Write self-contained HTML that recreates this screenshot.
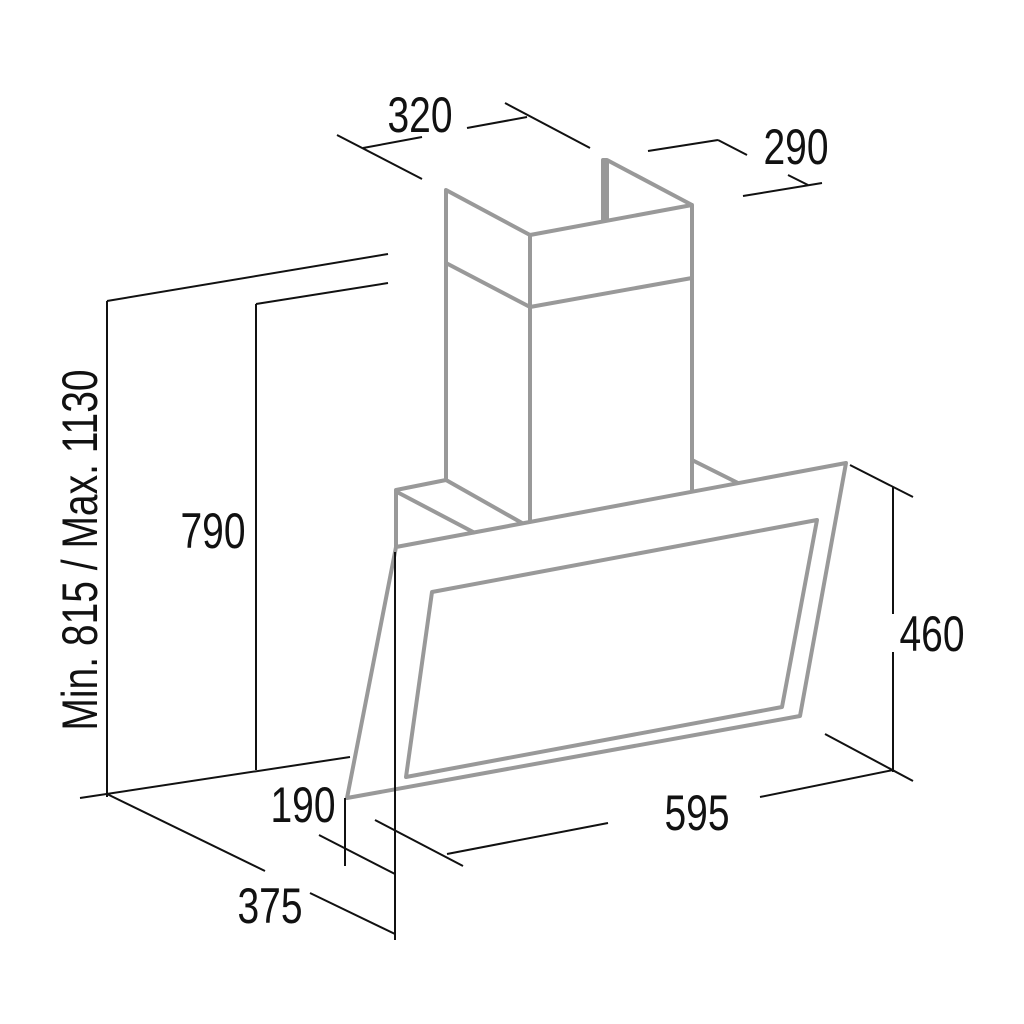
<!DOCTYPE html>
<html><head><style>
html,body{margin:0;padding:0;background:#fff;width:1024px;height:1024px;overflow:hidden}
text{font-family:"Liberation Sans",sans-serif;fill:#111}
</style></head><body>
<svg width="1024" height="1024" viewBox="0 0 1024 1024" xmlns="http://www.w3.org/2000/svg">
<g stroke="#999" stroke-width="4" fill="none" stroke-linejoin="round">
<polyline points="446,480 446,190 530,235 692,205 692,490"/>
<line x1="530" y1="235" x2="530" y2="522"/>
<polyline points="603,222 603,160 607,160 692,205"/>
<line x1="607" y1="160" x2="607" y2="220"/>
<polyline points="446,263 530,307 692,278"/>
<polyline points="396,548 396,490 446,480"/>
<line x1="397" y1="492" x2="475" y2="533"/>
<line x1="446" y1="480" x2="522" y2="523"/>
<line x1="692" y1="460" x2="738" y2="483"/>
<polygon points="396,547 846,463 800,716 347,798"/>
<polygon points="432,592 817,520 782,707 406,777"/>
</g>
<g stroke="#111" stroke-width="2" fill="none">
<line x1="337" y1="135" x2="422" y2="179"/>
<line x1="363" y1="148" x2="422" y2="137"/>
<line x1="467" y1="128" x2="527" y2="117"/>
<line x1="505" y1="103" x2="590" y2="148"/>
<line x1="648" y1="151" x2="718" y2="140"/>
<line x1="718" y1="140" x2="747" y2="155"/>
<line x1="788" y1="175" x2="808" y2="185"/>
<line x1="743" y1="196" x2="822" y2="183"/>
<line x1="107" y1="301" x2="388" y2="254"/>
<line x1="256" y1="304" x2="388" y2="283"/>
<line x1="107" y1="301" x2="107" y2="797"/>
<line x1="256" y1="304" x2="256" y2="770"/>
<line x1="80" y1="798" x2="350" y2="757"/>
<line x1="107" y1="794" x2="265" y2="871"/>
<line x1="310" y1="893" x2="395" y2="934"/>
<line x1="395" y1="552" x2="395" y2="940"/>
<line x1="345" y1="798" x2="345" y2="866"/>
<line x1="319" y1="835" x2="395" y2="874"/>
<line x1="375" y1="820" x2="463" y2="866"/>
<line x1="447" y1="854" x2="608" y2="823"/>
<line x1="760" y1="797" x2="893" y2="770"/>
<line x1="850" y1="465" x2="913" y2="497"/>
<line x1="825" y1="734" x2="913" y2="781"/>
<line x1="893" y1="487" x2="893" y2="614"/>
<line x1="893" y1="652" x2="893" y2="772"/>
</g>
<g font-size="50">
<text transform="translate(420,132) scale(0.78,1)" text-anchor="middle">320</text>
<text transform="translate(796,164) scale(0.78,1)" text-anchor="middle">290</text>
<text transform="translate(213,548) scale(0.78,1)" text-anchor="middle">790</text>
<text transform="translate(932,651) scale(0.78,1)" text-anchor="middle">460</text>
<text transform="translate(697,830) scale(0.78,1)" text-anchor="middle">595</text>
<text transform="translate(303,822) scale(0.78,1)" text-anchor="middle">190</text>
<text transform="translate(270,923) scale(0.78,1)" text-anchor="middle">375</text>
<text transform="translate(97,550) rotate(-90) scale(0.78,1)" text-anchor="middle">Min. 815 / Max. 1130</text>
</g>
</svg>
</body></html>
